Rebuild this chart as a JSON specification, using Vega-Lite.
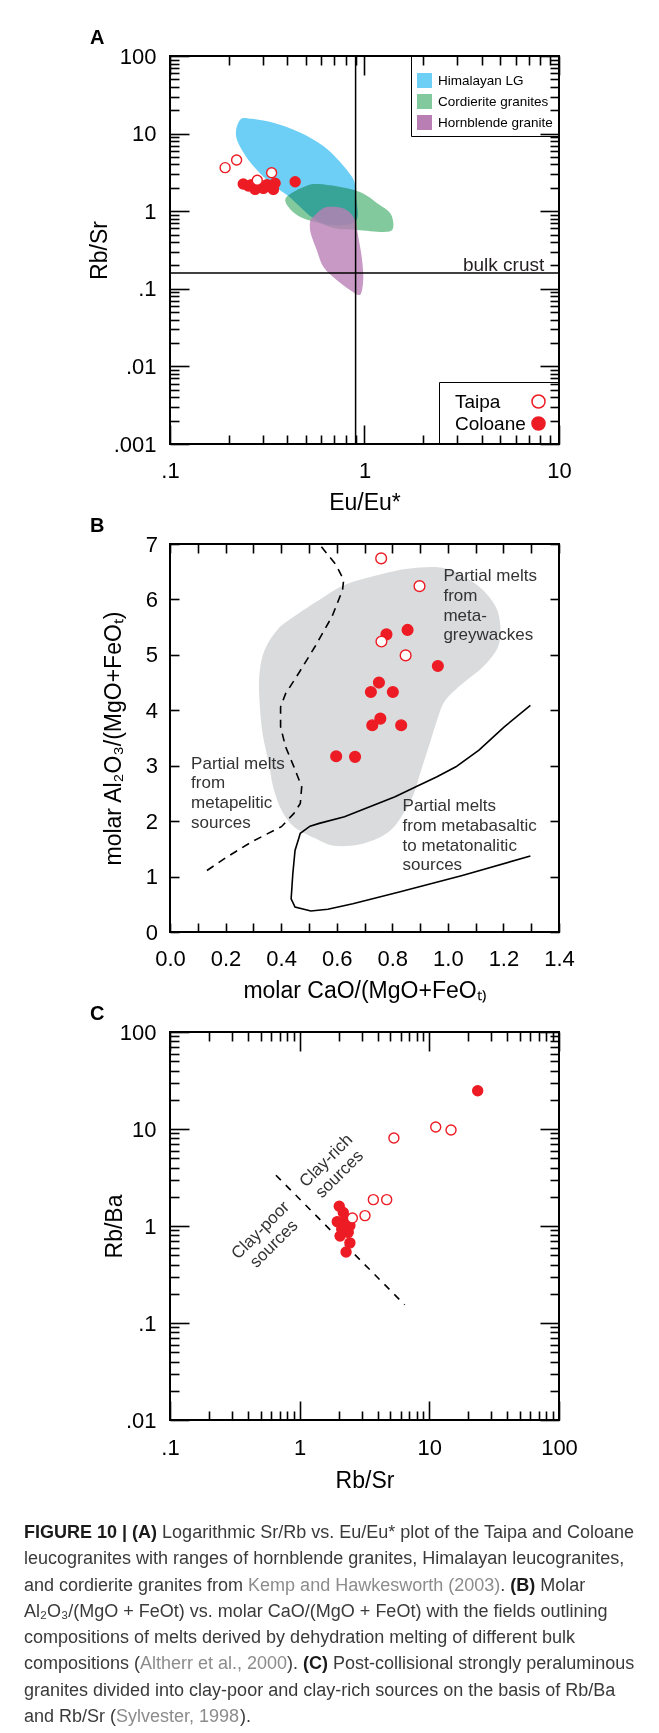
{
  "$schema": "https://vega.github.io/schema/vega-lite/v6.json",
  "background": "white",
  "padding": {"left": 24, "top": 27, "right": 0, "bottom": 0},
  "spacing": 100,
  "bounds": "flush",
  "config": {
    "font": "Liberation Sans",
    "view": {"stroke": "black", "strokeWidth": 2},
    "axis": {
      "grid": false, "domain": false, "tickColor": "black", "tickWidth": 1.6,
      "labelFont": "Liberation Sans", "labelFontSize": 22, "labelColor": "black",
      "titleFont": "Liberation Sans", "titleFontSize": 23, "titleFontWeight": "normal", "titleColor": "black",
      "labelFlush": false, "labelOverlap": false
    },
    "title": {"font": "Liberation Sans", "fontSize": 20, "fontWeight": "bold", "color": "black", "anchor": "start", "frame": "group", "dx": -80, "offset": -3}
  },
  "datasets": {
    "polyA": [
      {"g": "Himalayan LG", "i": 0, "x": 0.229, "y": 14.97},
      {"g": "Himalayan LG", "i": 1, "x": 0.253, "y": 15.7},
      {"g": "Himalayan LG", "i": 2, "x": 0.34, "y": 13.8},
      {"g": "Himalayan LG", "i": 3, "x": 0.466, "y": 10.3},
      {"g": "Himalayan LG", "i": 4, "x": 0.614, "y": 6.92},
      {"g": "Himalayan LG", "i": 5, "x": 0.733, "y": 4.57},
      {"g": "Himalayan LG", "i": 6, "x": 0.836, "y": 3.08},
      {"g": "Himalayan LG", "i": 7, "x": 0.886, "y": 2.4},
      {"g": "Himalayan LG", "i": 8, "x": 0.903, "y": 1.6},
      {"g": "Himalayan LG", "i": 9, "x": 0.903, "y": 0.75},
      {"g": "Himalayan LG", "i": 10, "x": 0.665, "y": 0.664},
      {"g": "Himalayan LG", "i": 11, "x": 0.546, "y": 0.809},
      {"g": "Himalayan LG", "i": 12, "x": 0.466, "y": 1.14},
      {"g": "Himalayan LG", "i": 13, "x": 0.406, "y": 1.57},
      {"g": "Himalayan LG", "i": 14, "x": 0.347, "y": 2.07},
      {"g": "Himalayan LG", "i": 15, "x": 0.296, "y": 2.93},
      {"g": "Himalayan LG", "i": 16, "x": 0.253, "y": 4.57},
      {"g": "Himalayan LG", "i": 17, "x": 0.2245, "y": 7.49},
      {"g": "Himalayan LG", "i": 18, "x": 0.2184, "y": 10.6},
      {"g": "Cordierite granites", "i": 0, "x": 0.394, "y": 1.48},
      {"g": "Cordierite granites", "i": 1, "x": 0.48, "y": 2.02},
      {"g": "Cordierite granites", "i": 2, "x": 0.584, "y": 2.24},
      {"g": "Cordierite granites", "i": 3, "x": 0.915, "y": 1.82},
      {"g": "Cordierite granites", "i": 4, "x": 1.173, "y": 1.25},
      {"g": "Cordierite granites", "i": 5, "x": 1.365, "y": 0.92},
      {"g": "Cordierite granites", "i": 6, "x": 1.4, "y": 0.597},
      {"g": "Cordierite granites", "i": 7, "x": 1.26, "y": 0.54},
      {"g": "Cordierite granites", "i": 8, "x": 0.915, "y": 0.573},
      {"g": "Cordierite granites", "i": 9, "x": 0.714, "y": 0.597},
      {"g": "Cordierite granites", "i": 10, "x": 0.584, "y": 0.705},
      {"g": "Cordierite granites", "i": 11, "x": 0.48, "y": 0.817},
      {"g": "Cordierite granites", "i": 12, "x": 0.414, "y": 1.07},
      {"g": "Hornblende granite", "i": 0, "x": 0.546, "y": 0.849},
      {"g": "Hornblende granite", "i": 1, "x": 0.614, "y": 1.09},
      {"g": "Hornblende granite", "i": 2, "x": 0.692, "y": 1.14},
      {"g": "Hornblende granite", "i": 3, "x": 0.81, "y": 1.04},
      {"g": "Hornblende granite", "i": 4, "x": 0.893, "y": 0.77},
      {"g": "Hornblende granite", "i": 5, "x": 0.929, "y": 0.469},
      {"g": "Hornblende granite", "i": 6, "x": 0.967, "y": 0.259},
      {"g": "Hornblende granite", "i": 7, "x": 0.986, "y": 0.143},
      {"g": "Hornblende granite", "i": 8, "x": 0.967, "y": 0.0918},
      {"g": "Hornblende granite", "i": 9, "x": 0.929, "y": 0.0832},
      {"g": "Hornblende granite", "i": 10, "x": 0.842, "y": 0.0966},
      {"g": "Hornblende granite", "i": 11, "x": 0.719, "y": 0.13},
      {"g": "Hornblende granite", "i": 12, "x": 0.614, "y": 0.193},
      {"g": "Hornblende granite", "i": 13, "x": 0.568, "y": 0.316},
      {"g": "Hornblende granite", "i": 14, "x": 0.529, "y": 0.519},
      {"g": "Hornblende granite", "i": 15, "x": 0.525, "y": 0.733}
    ],
    "ptsA": [
      {"site": "Coloane", "x": 0.238, "y": 2.24},
      {"site": "Coloane", "x": 0.253, "y": 2.11},
      {"site": "Coloane", "x": 0.262, "y": 2.2},
      {"site": "Coloane", "x": 0.274, "y": 1.91},
      {"site": "Coloane", "x": 0.302, "y": 1.97},
      {"site": "Coloane", "x": 0.315, "y": 2.2},
      {"site": "Coloane", "x": 0.327, "y": 2.07},
      {"site": "Coloane", "x": 0.34, "y": 1.91},
      {"site": "Coloane", "x": 0.347, "y": 2.29},
      {"site": "Coloane", "x": 0.44, "y": 2.4},
      {"site": "Taipa", "x": 0.192, "y": 3.64},
      {"site": "Taipa", "x": 0.22, "y": 4.57},
      {"site": "Taipa", "x": 0.281, "y": 2.5},
      {"site": "Taipa", "x": 0.333, "y": 3.13}
    ],
    "polyB": [
      {"i": 0, "x": 0.628, "y": 6.26}, {"i": 1, "x": 0.749, "y": 6.44}, {"i": 2, "x": 0.863, "y": 6.56},
      {"i": 3, "x": 0.991, "y": 6.56}, {"i": 4, "x": 1.097, "y": 6.29}, {"i": 5, "x": 1.165, "y": 5.93},
      {"i": 6, "x": 1.188, "y": 5.57}, {"i": 7, "x": 1.181, "y": 5.15}, {"i": 8, "x": 1.128, "y": 4.79},
      {"i": 9, "x": 1.052, "y": 4.48}, {"i": 10, "x": 0.991, "y": 4.18}, {"i": 11, "x": 0.961, "y": 3.82},
      {"i": 12, "x": 0.931, "y": 3.34}, {"i": 13, "x": 0.9, "y": 2.86}, {"i": 14, "x": 0.878, "y": 2.5},
      {"i": 15, "x": 0.84, "y": 2.14}, {"i": 16, "x": 0.795, "y": 1.84}, {"i": 17, "x": 0.734, "y": 1.66},
      {"i": 18, "x": 0.658, "y": 1.56}, {"i": 19, "x": 0.583, "y": 1.56}, {"i": 20, "x": 0.522, "y": 1.69},
      {"i": 21, "x": 0.446, "y": 1.9}, {"i": 22, "x": 0.401, "y": 2.2}, {"i": 23, "x": 0.371, "y": 2.62},
      {"i": 24, "x": 0.356, "y": 3.04}, {"i": 25, "x": 0.333, "y": 3.58}, {"i": 26, "x": 0.322, "y": 4.18},
      {"i": 27, "x": 0.322, "y": 4.66}, {"i": 28, "x": 0.341, "y": 5.09}, {"i": 29, "x": 0.386, "y": 5.45},
      {"i": 30, "x": 0.446, "y": 5.69}, {"i": 31, "x": 0.537, "y": 5.99}
    ],
    "dashB": [
      {"i": 0, "x": 0.133, "y": 1.11}, {"i": 1, "x": 0.204, "y": 1.35}, {"i": 2, "x": 0.295, "y": 1.63},
      {"i": 3, "x": 0.401, "y": 1.9}, {"i": 4, "x": 0.446, "y": 2.14}, {"i": 5, "x": 0.469, "y": 2.32},
      {"i": 6, "x": 0.474, "y": 2.62}, {"i": 7, "x": 0.446, "y": 2.98}, {"i": 8, "x": 0.416, "y": 3.34},
      {"i": 9, "x": 0.398, "y": 3.7}, {"i": 10, "x": 0.398, "y": 4.06}, {"i": 11, "x": 0.416, "y": 4.3},
      {"i": 12, "x": 0.462, "y": 4.66}, {"i": 13, "x": 0.522, "y": 5.15}, {"i": 14, "x": 0.583, "y": 5.69},
      {"i": 15, "x": 0.621, "y": 6.17}, {"i": 16, "x": 0.625, "y": 6.35}, {"i": 17, "x": 0.598, "y": 6.62},
      {"i": 18, "x": 0.537, "y": 7.0}
    ],
    "solidB": [
      {"i": 0, "x": 1.297, "y": 4.09}, {"i": 1, "x": 1.203, "y": 3.7}, {"i": 2, "x": 1.112, "y": 3.28},
      {"i": 3, "x": 1.029, "y": 2.98}, {"i": 4, "x": 0.961, "y": 2.8}, {"i": 5, "x": 0.885, "y": 2.62},
      {"i": 6, "x": 0.81, "y": 2.44}, {"i": 7, "x": 0.719, "y": 2.26}, {"i": 8, "x": 0.628, "y": 2.08},
      {"i": 9, "x": 0.537, "y": 1.96}, {"i": 10, "x": 0.504, "y": 1.91}, {"i": 11, "x": 0.469, "y": 1.78},
      {"i": 12, "x": 0.45, "y": 1.47}, {"i": 13, "x": 0.442, "y": 1.05}, {"i": 14, "x": 0.436, "y": 0.6},
      {"i": 15, "x": 0.45, "y": 0.45}, {"i": 16, "x": 0.507, "y": 0.38}, {"i": 17, "x": 0.568, "y": 0.41},
      {"i": 18, "x": 0.658, "y": 0.51}, {"i": 19, "x": 0.825, "y": 0.72}, {"i": 20, "x": 1.052, "y": 1.02},
      {"i": 21, "x": 1.297, "y": 1.37}
    ],
    "ptsB": [
      {"site": "Coloane", "x": 0.779, "y": 5.37}, {"site": "Coloane", "x": 0.855, "y": 5.45},
      {"site": "Coloane", "x": 0.964, "y": 4.8}, {"site": "Coloane", "x": 0.752, "y": 4.5},
      {"site": "Coloane", "x": 0.723, "y": 4.33}, {"site": "Coloane", "x": 0.802, "y": 4.33},
      {"site": "Coloane", "x": 0.757, "y": 3.85}, {"site": "Coloane", "x": 0.728, "y": 3.73},
      {"site": "Coloane", "x": 0.832, "y": 3.73}, {"site": "Coloane", "x": 0.598, "y": 3.17},
      {"site": "Coloane", "x": 0.666, "y": 3.16},
      {"site": "Taipa", "x": 0.76, "y": 6.74}, {"site": "Taipa", "x": 0.898, "y": 6.24},
      {"site": "Taipa", "x": 0.761, "y": 5.24}, {"site": "Taipa", "x": 0.848, "y": 4.99}
    ],
    "ptsC": [
      {"site": "Coloane", "x": 23.6, "y": 24.8}, {"site": "Coloane", "x": 2.02, "y": 1.6},
      {"site": "Coloane", "x": 2.17, "y": 1.38}, {"site": "Coloane", "x": 1.95, "y": 1.11},
      {"site": "Coloane", "x": 2.31, "y": 1.18}, {"site": "Coloane", "x": 2.44, "y": 1.01},
      {"site": "Coloane", "x": 2.11, "y": 0.93}, {"site": "Coloane", "x": 2.37, "y": 0.86},
      {"site": "Coloane", "x": 2.05, "y": 0.79}, {"site": "Coloane", "x": 2.44, "y": 0.67},
      {"site": "Coloane", "x": 2.28, "y": 0.54}, {"site": "Coloane", "x": 2.24, "y": 1.05},
      {"site": "Taipa", "x": 5.33, "y": 8.07}, {"site": "Taipa", "x": 11.2, "y": 10.5},
      {"site": "Taipa", "x": 14.7, "y": 9.77}, {"site": "Taipa", "x": 3.7, "y": 1.87},
      {"site": "Taipa", "x": 4.69, "y": 1.87}, {"site": "Taipa", "x": 3.19, "y": 1.28},
      {"site": "Taipa", "x": 2.55, "y": 1.21}
    ],
    "caption": [
      {"line": 1, "seg": "1b", "text": "FIGURE 10 | (A)"},
      {"line": 1, "seg": "1r", "text": "Logarithmic Sr/Rb vs. Eu/Eu* plot of the Taipa and Coloane"},
      {"line": 2, "seg": "n", "text": "leucogranites with ranges of hornblende granites, Himalayan leucogranites,"},
      {"line": 3, "seg": "n", "text": "and cordierite granites from"},
      {"line": 3, "seg": "3g", "text": "Kemp and Hawkesworth (2003)"},
      {"line": 3, "seg": "3p", "text": "."},
      {"line": 3, "seg": "3b", "text": "(B)"},
      {"line": 3, "seg": "3r", "text": "Molar"},
      {"line": 4, "seg": "n", "text": "Al₂O₃/(MgO + FeOt) vs. molar CaO/(MgO + FeOt) with the fields outlining"},
      {"line": 5, "seg": "n", "text": "compositions of melts derived by dehydration melting of different bulk"},
      {"line": 6, "seg": "n", "text": "compositions ("},
      {"line": 6, "seg": "6g", "text": "Altherr et al., 2000"},
      {"line": 6, "seg": "6p", "text": ")."},
      {"line": 6, "seg": "6b", "text": "(C)"},
      {"line": 6, "seg": "6r", "text": "Post-collisional strongly peraluminous"},
      {"line": 7, "seg": "n", "text": "granites divided into clay-poor and clay-rich sources on the basis of Rb/Ba"},
      {"line": 8, "seg": "n", "text": "and Rb/Sr ("},
      {"line": 8, "seg": "8g", "text": "Sylvester, 1998"},
      {"line": 8, "seg": "8p", "text": ")."}
    ]
  },
  "vconcat": [
    {
      "width": 389, "height": 388,
      "title": {"text": "A"},
      "resolve": {"scale": {"fill": "independent"}, "axis": {"x": "independent", "y": "independent"}},
      "layer": [
        {
          "data": {"name": "polyA"},
          "encoding": {
            "x": {"field": "x", "type": "quantitative", "scale": {"type": "log", "domain": [0.1, 10], "nice": false}, "axis": null},
            "y": {"field": "y", "type": "quantitative", "scale": {"type": "log", "domain": [0.001, 100], "nice": false}, "axis": null},
            "order": {"field": "i", "type": "quantitative"},
            "fill": {
              "field": "g", "type": "nominal",
              "scale": {"domain": ["Himalayan LG", "Cordierite granites", "Hornblende granite"], "range": ["#6dcff6", "#82c99d", "#b97fb5"]},
              "legend": {
                "orient": "top-right", "offset": 0, "title": " ", "titleFontSize": 8, "titlePadding": 3,
                "strokeColor": "black", "padding": 6, "symbolType": "square", "symbolSize": 225,
                "symbolStrokeWidth": 0, "symbolOpacity": 1, "labelFontSize": 13.5, "labelOffset": 6,
                "rowPadding": 6, "labelColor": "black"
              }
            }
          },
          "layer": [
            {"transform": [{"filter": "datum.g === 'Himalayan LG'"}], "mark": {"type": "line", "interpolate": "cardinal-closed", "strokeWidth": 0, "filled": true}},
            {"transform": [{"filter": "datum.g === 'Cordierite granites'"}], "mark": {"type": "line", "interpolate": "cardinal-closed", "strokeWidth": 0, "filled": true, "blend": "multiply"}},
            {"transform": [{"filter": "datum.g === 'Hornblende granite'"}], "mark": {"type": "line", "interpolate": "cardinal-closed", "strokeWidth": 0, "filled": true, "opacity": 0.8}}
          ]
        },
        {
          "data": {"values": [{"x": 0.9}]},
          "mark": {"type": "rule", "color": "black", "strokeWidth": 1.5},
          "encoding": {
            "x": {"field": "x", "type": "quantitative", "scale": {"type": "log", "domain": [0.1, 10], "nice": false},
              "axis": {"orient": "top", "labels": false, "title": null,
                "values": [0.1,0.2,0.3,0.4,0.5,0.6,0.7,0.8,0.9,1,2,3,4,5,6,7,8,9,10],
                "tickSize": {"condition": {"test": "indexof([0.1,1,10], datum.value) >= 0", "value": -19}, "value": -9}}}
          }
        },
        {
          "data": {"values": [{"y": 0.16}]},
          "mark": {"type": "rule", "color": "black", "strokeWidth": 1.5},
          "encoding": {
            "y": {"field": "y", "type": "quantitative", "scale": {"type": "log", "domain": [0.001, 100], "nice": false},
              "axis": {"orient": "right", "labels": false, "title": null,
                "values": [0.001,0.002,0.003,0.004,0.005,0.006,0.007,0.008,0.009,0.01,0.02,0.03,0.04,0.05,0.06,0.07,0.08,0.09,0.1,0.2,0.3,0.4,0.5,0.6,0.7,0.8,0.9,1,2,3,4,5,6,7,8,9,10,20,30,40,50,60,70,80,90,100],
                "tickSize": {"condition": {"test": "indexof([0.001,0.01,0.1,1,10,100], datum.value) >= 0", "value": -19}, "value": -9}}}
          }
        },
        {
          "data": {"values": [{"x": 8.4, "y": 0.16, "t": "bulk crust"}]},
          "mark": {"type": "text", "align": "right", "baseline": "alphabetic", "dy": -2, "fontSize": 19, "color": "#231f20"},
          "encoding": {
            "x": {"field": "x", "type": "quantitative", "scale": {"type": "log", "domain": [0.1, 10], "nice": false}, "axis": null},
            "y": {"field": "y", "type": "quantitative", "scale": {"type": "log", "domain": [0.001, 100], "nice": false}, "axis": null},
            "text": {"field": "t"}
          }
        },
        {
          "data": {"name": "ptsA"},
          "mark": {"type": "point", "shape": "circle", "filled": true, "stroke": "#ed1c24", "strokeWidth": 1.4, "size": 100, "opacity": 1},
          "encoding": {
            "x": {"field": "x", "type": "quantitative", "scale": {"type": "log", "domain": [0.1, 10], "nice": false},
              "axis": {"orient": "bottom", "title": "Eu/Eu*", "titlePadding": 0, "labelPadding": 35.5,
                "values": [0.1,0.2,0.3,0.4,0.5,0.6,0.7,0.8,0.9,1,2,3,4,5,6,7,8,9,10],
                "labelExpr": "datum.value === 0.1 ? '.1' : datum.value === 1 ? '1' : datum.value === 10 ? '10' : ''",
                "tickSize": {"condition": {"test": "indexof([0.1,1,10], datum.value) >= 0", "value": -19}, "value": -9}}},
            "y": {"field": "y", "type": "quantitative", "scale": {"type": "log", "domain": [0.001, 100], "nice": false},
              "axis": {"orient": "left", "title": "Rb/Sr", "titlePadding": 2, "labelPadding": 33,
                "values": [0.001,0.002,0.003,0.004,0.005,0.006,0.007,0.008,0.009,0.01,0.02,0.03,0.04,0.05,0.06,0.07,0.08,0.09,0.1,0.2,0.3,0.4,0.5,0.6,0.7,0.8,0.9,1,2,3,4,5,6,7,8,9,10,20,30,40,50,60,70,80,90,100],
                "labelExpr": "datum.value === 0.001 ? '.001' : datum.value === 0.01 ? '.01' : datum.value === 0.1 ? '.1' : datum.value === 1 ? '1' : datum.value === 10 ? '10' : datum.value === 100 ? '100' : ''",
                "tickSize": {"condition": {"test": "indexof([0.001,0.01,0.1,1,10,100], datum.value) >= 0", "value": -19}, "value": -9}}},
            "fill": {"field": "site", "type": "nominal",
              "scale": {"domain": ["Taipa", "Coloane"], "range": ["#ffffff", "#ed1c24"]},
              "legend": {"orient": "bottom-right", "offset": 0, "title": null, "strokeColor": "black", "padding": 10,
                "labelFontSize": 19, "labelColor": "black", "symbolSize": 170, "symbolType": "circle",
                "symbolStrokeColor": "#ed1c24", "symbolStrokeWidth": 1.5, "symbolOffset": 80, "labelOffset": -93, "rowPadding": 1}}
          }
        }
      ]
    },
    {
      "width": 389, "height": 388,
      "title": {"text": "B"},
      "resolve": {"axis": {"x": "independent", "y": "independent"}},
      "layer": [
        {
          "data": {"name": "polyB"},
          "mark": {"type": "line", "interpolate": "cardinal-closed", "strokeWidth": 0, "filled": true, "fill": "#dadbdc"},
          "encoding": {
            "x": {"field": "x", "type": "quantitative", "scale": {"domain": [0, 1.4], "nice": false, "zero": false}, "axis": null},
            "y": {"field": "y", "type": "quantitative", "scale": {"domain": [0, 7], "nice": false}, "axis": null},
            "order": {"field": "i", "type": "quantitative"}
          }
        },
        {
          "data": {"name": "solidB"},
          "mark": {"type": "line", "color": "black", "strokeWidth": 1.6},
          "encoding": {
            "x": {"field": "x", "type": "quantitative", "scale": {"domain": [0, 1.4], "nice": false, "zero": false}, "axis": null},
            "y": {"field": "y", "type": "quantitative", "scale": {"domain": [0, 7], "nice": false}, "axis": null},
            "order": {"field": "i", "type": "quantitative"}
          }
        },
        {
          "data": {"name": "dashB"},
          "mark": {"type": "line", "color": "black", "strokeWidth": 1.6, "strokeDash": [8, 6]},
          "encoding": {
            "x": {"field": "x", "type": "quantitative", "scale": {"domain": [0, 1.4], "nice": false, "zero": false},
              "axis": {"orient": "top", "labels": false, "title": null, "tickSize": -9,
                "values": [0,0.1,0.2,0.3,0.4,0.5,0.6,0.7,0.8,0.9,1,1.1,1.2,1.3,1.4]}},
            "y": {"field": "y", "type": "quantitative", "scale": {"domain": [0, 7], "nice": false},
              "axis": {"orient": "right", "labels": false, "title": null, "tickSize": -9, "values": [0,1,2,3,4,5,6,7]}},
            "order": {"field": "i", "type": "quantitative"}
          }
        },
        {
          "data": {"values": [
            {"x": 0.984, "y": 6.56, "t": "Partial melts\nfrom\nmeta-\ngreywackes"},
            {"x": 0.076, "y": 3.18, "t": "Partial melts\nfrom\nmetapelitic\nsources"},
            {"x": 0.837, "y": 2.41, "t": "Partial melts\nfrom metabasaltic\nto metatonalitic\nsources"}
          ]},
          "mark": {"type": "text", "align": "left", "baseline": "top", "lineBreak": "\n", "lineHeight": 19.6, "fontSize": 17, "color": "#333333"},
          "encoding": {
            "x": {"field": "x", "type": "quantitative", "scale": {"domain": [0, 1.4], "nice": false, "zero": false}, "axis": null},
            "y": {"field": "y", "type": "quantitative", "scale": {"domain": [0, 7], "nice": false}, "axis": null},
            "text": {"field": "t"}
          }
        },
        {
          "data": {"name": "ptsB"},
          "mark": {"type": "point", "shape": "circle", "filled": true, "stroke": "#ed1c24", "strokeWidth": 1.4, "size": 115, "opacity": 1},
          "encoding": {
            "x": {"field": "x", "type": "quantitative", "scale": {"domain": [0, 1.4], "nice": false, "zero": false},
              "axis": {"orient": "bottom", "title": "molar CaO/(MgO+FeOₜ₎", "titlePadding": 9.5, "labelPadding": 25.5, "tickSize": -9,
                "values": [0,0.1,0.2,0.3,0.4,0.5,0.6,0.7,0.8,0.9,1,1.1,1.2,1.3,1.4],
                "labelExpr": "indexof([0,0.2,0.4,0.6,0.8,1,1.2,1.4], datum.value) >= 0 ? format(datum.value, '.1f') : ''"}},
            "y": {"field": "y", "type": "quantitative", "scale": {"domain": [0, 7], "nice": false},
              "axis": {"orient": "left", "title": "molar Al₂O₃/(MgO+FeOₜ)", "titlePadding": 20, "labelPadding": 21.5, "tickSize": -9,
                "values": [0,1,2,3,4,5,6,7], "format": "d"}},
            "fill": {"field": "site", "type": "nominal", "scale": {"domain": ["Taipa", "Coloane"], "range": ["#ffffff", "#ed1c24"]}, "legend": null}
          }
        }
      ]
    },
    {
      "width": 389, "height": 388,
      "title": {"text": "C"},
      "resolve": {"axis": {"x": "independent", "y": "independent"}},
      "layer": [
        {
          "data": {"values": [{"x": 0.656, "y": 3.34}, {"x": 6.46, "y": 0.154}]},
          "mark": {"type": "line", "color": "black", "strokeWidth": 1.6, "strokeDash": [7, 7]},
          "encoding": {
            "x": {"field": "x", "type": "quantitative", "scale": {"type": "log", "domain": [0.1, 100], "nice": false},
              "axis": {"orient": "top", "labels": false, "title": null,
                "values": [0.1,0.2,0.3,0.4,0.5,0.6,0.7,0.8,0.9,1,2,3,4,5,6,7,8,9,10,20,30,40,50,60,70,80,90,100],
                "tickSize": {"condition": {"test": "indexof([0.1,1,10,100], datum.value) >= 0", "value": -19}, "value": -9}}},
            "y": {"field": "y", "type": "quantitative", "scale": {"type": "log", "domain": [0.01, 100], "nice": false},
              "axis": {"orient": "right", "labels": false, "title": null,
                "values": [0.01,0.02,0.03,0.04,0.05,0.06,0.07,0.08,0.09,0.1,0.2,0.3,0.4,0.5,0.6,0.7,0.8,0.9,1,2,3,4,5,6,7,8,9,10,20,30,40,50,60,70,80,90,100],
                "tickSize": {"condition": {"test": "indexof([0.01,0.1,1,10,100], datum.value) >= 0", "value": -19}, "value": -9}}}
          }
        },
        {
          "data": {"values": [
            {"x": 1.6, "y": 4.7, "t": "Clay-rich\nsources"},
            {"x": 0.5, "y": 0.9, "t": "Clay-poor\nsources"}
          ]},
          "mark": {"type": "text", "align": "center", "baseline": "middle", "angle": -45, "lineBreak": "\n", "lineHeight": 19, "fontSize": 17, "color": "#333333"},
          "encoding": {
            "x": {"field": "x", "type": "quantitative", "scale": {"type": "log", "domain": [0.1, 100], "nice": false}, "axis": null},
            "y": {"field": "y", "type": "quantitative", "scale": {"type": "log", "domain": [0.01, 100], "nice": false}, "axis": null},
            "text": {"field": "t"}
          }
        },
        {
          "data": {"name": "ptsC"},
          "mark": {"type": "point", "shape": "circle", "filled": true, "stroke": "#ed1c24", "strokeWidth": 1.4, "size": 100, "opacity": 1},
          "encoding": {
            "x": {"field": "x", "type": "quantitative", "scale": {"type": "log", "domain": [0.1, 100], "nice": false},
              "axis": {"orient": "bottom", "title": "Rb/Sr", "titlePadding": 0.5, "labelPadding": 36.5,
                "values": [0.1,0.2,0.3,0.4,0.5,0.6,0.7,0.8,0.9,1,2,3,4,5,6,7,8,9,10,20,30,40,50,60,70,80,90,100],
                "labelExpr": "datum.value === 0.1 ? '.1' : datum.value === 1 ? '1' : datum.value === 10 ? '10' : datum.value === 100 ? '100' : ''",
                "tickSize": {"condition": {"test": "indexof([0.1,1,10,100], datum.value) >= 0", "value": -19}, "value": -9}}},
            "y": {"field": "y", "type": "quantitative", "scale": {"type": "log", "domain": [0.01, 100], "nice": false},
              "axis": {"orient": "left", "title": "Rb/Ba", "titlePadding": -7, "labelPadding": 33,
                "values": [0.01,0.02,0.03,0.04,0.05,0.06,0.07,0.08,0.09,0.1,0.2,0.3,0.4,0.5,0.6,0.7,0.8,0.9,1,2,3,4,5,6,7,8,9,10,20,30,40,50,60,70,80,90,100],
                "labelExpr": "datum.value === 0.01 ? '.01' : datum.value === 0.1 ? '.1' : datum.value === 1 ? '1' : datum.value === 10 ? '10' : datum.value === 100 ? '100' : ''",
                "tickSize": {"condition": {"test": "indexof([0.01,0.1,1,10,100], datum.value) >= 0", "value": -19}, "value": -9}}},
            "fill": {"field": "site", "type": "nominal", "scale": {"domain": ["Taipa", "Coloane"], "range": ["#ffffff", "#ed1c24"]}, "legend": null}
          }
        }
      ]
    },
    {
      "width": 389, "height": 210,
      "view": {"stroke": null},
      "data": {"name": "caption"},
      "encoding": {
        "x": {"datum": 0, "type": "quantitative", "scale": {"domain": [0, 1]}, "axis": null},
        "y": {"field": "line", "type": "ordinal", "scale": {"paddingInner": 0, "paddingOuter": 0}, "axis": null},
        "text": {"field": "text"}
      },
      "layer": [
        {"transform": [{"filter": "datum.seg === '1b'"}], "mark": {"type": "text", "align": "left", "baseline": "middle", "fontSize": 18, "fontWeight": "bold", "color": "#1a1a1a", "dx": -146}},
        {"transform": [{"filter": "datum.seg === '1r'"}], "mark": {"type": "text", "align": "left", "baseline": "middle", "fontSize": 18, "color": "#3a3a3a", "dx": -7.9}},
        {"transform": [{"filter": "datum.seg === 'n'"}], "mark": {"type": "text", "align": "left", "baseline": "middle", "fontSize": 18, "color": "#3a3a3a", "dx": -146}},
        {"transform": [{"filter": "datum.seg === '3g'"}], "mark": {"type": "text", "align": "left", "baseline": "middle", "fontSize": 18, "color": "#8c8c8c", "dx": 78.1}},
        {"transform": [{"filter": "datum.seg === '3p'"}], "mark": {"type": "text", "align": "left", "baseline": "middle", "fontSize": 18, "color": "#3a3a3a", "dx": 330.2}},
        {"transform": [{"filter": "datum.seg === '3b'"}], "mark": {"type": "text", "align": "left", "baseline": "middle", "fontSize": 18, "fontWeight": "bold", "color": "#1a1a1a", "dx": 340.2}},
        {"transform": [{"filter": "datum.seg === '3r'"}], "mark": {"type": "text", "align": "left", "baseline": "middle", "fontSize": 18, "color": "#3a3a3a", "dx": 370.2}},
        {"transform": [{"filter": "datum.seg === '6g'"}], "mark": {"type": "text", "align": "left", "baseline": "middle", "fontSize": 18, "color": "#8c8c8c", "dx": -30.0}},
        {"transform": [{"filter": "datum.seg === '6p'"}], "mark": {"type": "text", "align": "left", "baseline": "middle", "fontSize": 18, "color": "#3a3a3a", "dx": 117.1}},
        {"transform": [{"filter": "datum.seg === '6b'"}], "mark": {"type": "text", "align": "left", "baseline": "middle", "fontSize": 18, "fontWeight": "bold", "color": "#1a1a1a", "dx": 133.1}},
        {"transform": [{"filter": "datum.seg === '6r'"}], "mark": {"type": "text", "align": "left", "baseline": "middle", "fontSize": 18, "color": "#3a3a3a", "dx": 163.1}},
        {"transform": [{"filter": "datum.seg === '8g'"}], "mark": {"type": "text", "align": "left", "baseline": "middle", "fontSize": 18, "color": "#8c8c8c", "dx": -54.0}},
        {"transform": [{"filter": "datum.seg === '8p'"}], "mark": {"type": "text", "align": "left", "baseline": "middle", "fontSize": 18, "color": "#3a3a3a", "dx": 70.1}}
      ]
    }
  ]
}
